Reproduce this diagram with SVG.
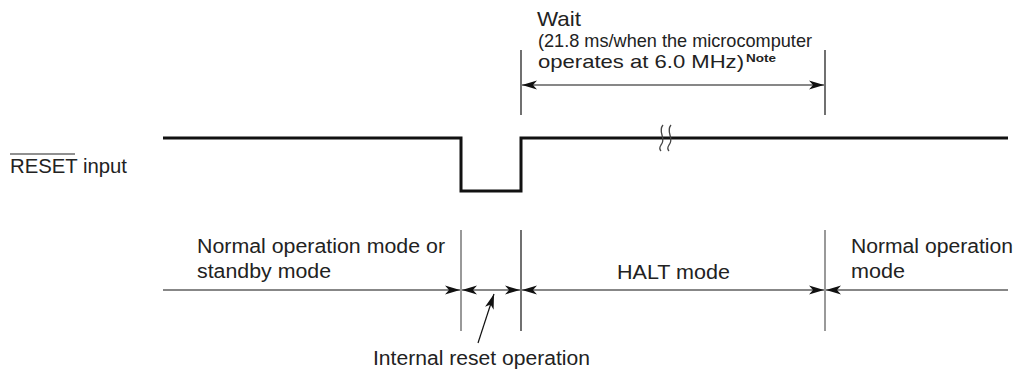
<svg xmlns="http://www.w3.org/2000/svg" width="1018" height="373" viewBox="0 0 1018 373">
<style>
text{font-family:"Liberation Sans",Arial,sans-serif;fill:#222;}
.t20{font-size:20px;}
.t18{font-size:18.5px;}
.sig{fill:none;stroke:#111;stroke-width:3;}
.ln{fill:none;stroke:#111;stroke-width:1.2;}
.gl{fill:none;stroke:#777;stroke-width:1.5;}
.arr{marker-end:url(#ah);}
.arr2{marker-start:url(#ahs);marker-end:url(#ah);}
</style>
<defs>
<marker id="ah" markerUnits="userSpaceOnUse" markerWidth="18" markerHeight="12" refX="15" refY="5" orient="auto">
<path d="M0,0.5 L15,5 L0,9.5 L4,5 Z" fill="#111"/>
</marker>
<marker id="ahs" markerUnits="userSpaceOnUse" markerWidth="18" markerHeight="12" refX="0" refY="5" orient="auto">
<path d="M15,0.5 L0,5 L15,9.5 L11,5 Z" fill="#111"/>
</marker>
</defs>
<rect width="1018" height="373" fill="#fff"/>
<g id="labels">
<g id="reset-label">
<text class="t20" x="10" y="173" textLength="117" lengthAdjust="spacingAndGlyphs">RESET input</text>
<line x1="10" y1="154" x2="75" y2="154" stroke="#222" stroke-width="1.2"/>
</g>
<g id="wait-label">
<text x="537" y="26" style="font-size:21px" textLength="44" lengthAdjust="spacingAndGlyphs">Wait</text>
<text class="t18" x="538" y="47" textLength="274" lengthAdjust="spacingAndGlyphs">(21.8 ms/when the microcomputer</text>
<text class="t18" x="538" y="68" textLength="206" lengthAdjust="spacingAndGlyphs">operates at 6.0 MHz)</text>
<text x="746" y="62" style="font-size:11px;font-weight:bold" textLength="30" lengthAdjust="spacingAndGlyphs">Note</text>
</g>
<g id="normal-standby">
<text class="t20" x="197" y="253" textLength="248" lengthAdjust="spacingAndGlyphs">Normal operation mode or</text>
<text class="t20" x="197" y="278" textLength="134" lengthAdjust="spacingAndGlyphs">standby mode</text>
</g>
<g id="halt">
<text class="t20" x="617" y="279" textLength="113" lengthAdjust="spacingAndGlyphs">HALT mode</text>
</g>
<g id="normal">
<text class="t20" x="851" y="253" textLength="162" lengthAdjust="spacingAndGlyphs">Normal operation</text>
<text class="t20" x="851" y="278" textLength="54" lengthAdjust="spacingAndGlyphs">mode</text>
</g>
<g id="internal-reset">
<text class="t20" x="373" y="365" textLength="217" lengthAdjust="spacingAndGlyphs">Internal reset operation</text>
</g>
</g>
<g id="signal">
<path class="sig" d="M163 138 H461 V191 H521 V138 H1008"/>
<path d="M663 125 C657 132 667 138 661 145 C659 148 660 150 661 151" fill="none" stroke="#444" stroke-width="1.3"/>
<path d="M671 125 C665 132 675 138 669 145 C667 148 668 150 669 151" fill="none" stroke="#444" stroke-width="1.3"/>
</g>
<g id="connectors">
<line class="ln" x1="521" y1="50" x2="521" y2="115"/>
<line class="ln" x1="825" y1="50" x2="825" y2="115"/>
<line class="ln arr2" x1="522" y1="85" x2="824" y2="85"/>
<line class="gl" x1="461" y1="230" x2="461" y2="331"/>
<line class="ln" x1="521" y1="230" x2="521" y2="331"/>
<line class="gl" x1="825" y1="230" x2="825" y2="331"/>
<line class="ln arr" x1="163" y1="290" x2="460" y2="290"/>
<line class="ln arr2" x1="462" y1="290" x2="520" y2="290"/>
<line class="ln arr2" x1="522" y1="290" x2="824" y2="290"/>
<line class="ln arr" x1="1008" y1="290" x2="826" y2="290"/>
<line class="ln arr" x1="478" y1="343" x2="494" y2="294"/>
</g>
</svg>
